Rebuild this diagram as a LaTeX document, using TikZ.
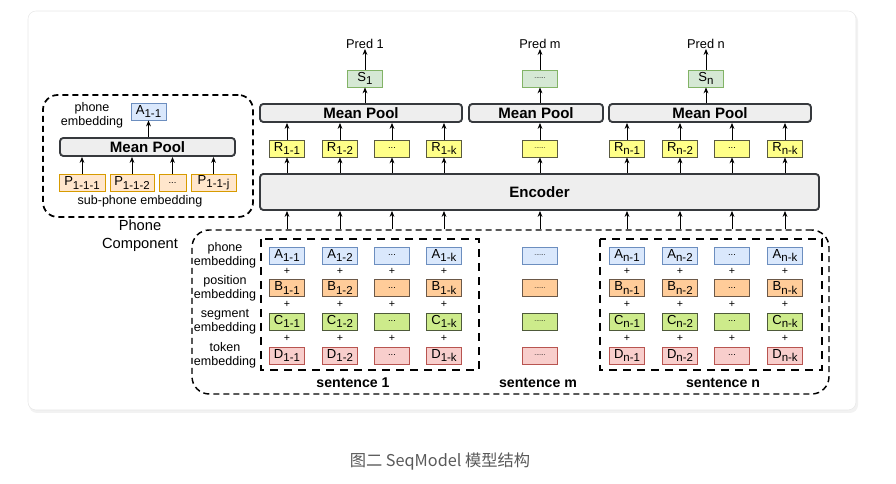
\documentclass[tikz,border=0pt]{standalone}
\usepackage{fontspec}
\setmainfont{Liberation Sans}
\newfontfamily\cjkfont{Noto Sans CJK SC}
\usepackage{xcolor}
\usetikzlibrary{arrows.meta, positioning}

\definecolor{aFill}{HTML}{DAE8FC}\definecolor{aDraw}{HTML}{6C8EBF}
\definecolor{bFill}{HTML}{FFCC99}\definecolor{bDraw}{HTML}{6B5848}
\definecolor{cFill}{HTML}{CDEB8B}\definecolor{cDraw}{HTML}{4E5A3A}
\definecolor{dFill}{HTML}{F8CECC}\definecolor{dDraw}{HTML}{B85450}
\definecolor{rFill}{HTML}{FFFF88}\definecolor{rDraw}{HTML}{5A5A40}
\definecolor{sFill}{HTML}{D5E8D4}\definecolor{sDraw}{HTML}{82B366}
\definecolor{pFill}{HTML}{FFE6CC}\definecolor{pDraw}{HTML}{D79B00}
\definecolor{poolFill}{HTML}{EEEEEE}\definecolor{poolDraw}{HTML}{36393D}

\newcommand{\lsub}[1]{\raisebox{-0.45ex}{\fontsize{8.6}{9}\selectfont #1}}
\newcommand{\threedots}{{\scriptsize...}}
\newcommand{\sixdots}{{\tiny......}}

\begin{document}
\begin{tikzpicture}[
    x=0.75pt, y=-0.75pt,
    cell/.style 2 args={rectangle, draw=#2, fill=#1, line width=0.6pt, minimum width=26.25pt, minimum height=12.75pt, inner sep=0pt, font=\fontsize{9.8}{10}\selectfont},
    ablk/.style={cell={aFill}{aDraw}},
    bblk/.style={cell={bFill}{bDraw}},
    cblk/.style={cell={cFill}{cDraw}},
    dblk/.style={cell={dFill}{dDraw}},
    rblk/.style={cell={rFill}{rDraw}},
    sblk/.style={cell={sFill}{sDraw}},
    pblk/.style={cell={pFill}{pDraw}},
    pool/.style={rectangle, rounded corners=2.5pt, draw=poolDraw, fill=poolFill, line width=1.4pt, minimum height=13.5pt, inner sep=0pt, font=\bfseries\fontsize{11.3}{12}\selectfont},
    arr/.style={-{Stealth[length=4.5pt, width=3.6pt]}, line width=0.6pt},
    plus/.style={inner sep=0pt, font=\fontsize{8}{8}\selectfont},
    lbl/.style={align=center, inner sep=0pt, font=\fontsize{9.4}{10.5}\selectfont},
    predlbl/.style={inner sep=0pt, font=\fontsize{9.6}{10}\selectfont},
    slbl/.style={inner sep=0pt, font=\bfseries\fontsize{10.6}{12}\selectfont},
    outerbox/.style={rectangle, draw, dashed, dash pattern=on 4.5pt off 3pt, line width=1.1pt, rounded corners=13pt, inner sep=0pt},
    sentbox/.style={draw, dash pattern=on 6pt off 4.5pt, line width=1.8pt}
]
\useasboundingbox (0,0) rectangle (896,484);
\fill[black!5, rounded corners=6pt] (29,13) rectangle (858,413);
\draw[fill=white, draw=black!9, rounded corners=6pt] (28,11) rectangle (856,410);

\node[outerbox, minimum width=157.5pt, minimum height=91.5pt, line width=1.3pt, rounded corners=11pt] (phonebox) at (148,156) {};
\node[ablk] (pa) at (148.5,111.5) {A\lsub{1-1}};
\node[lbl] (palbl) at (92,115) {phone\\embedding};
\node[pool, minimum width=131.25pt] (ppool) at (147.5,147) {Mean Pool};
\node[pblk, minimum width=34.5pt] (p1) at (82,183) {P\lsub{1-1-1}};
\node[pblk, minimum width=33pt] (p2) at (132,183) {P\lsub{1-1-2}};
\node[pblk, minimum width=20.25pt] (p3) at (172.5,183) {\threedots};
\node[pblk, minimum width=33.75pt] (p4) at (213.5,183) {P\lsub{1-1-j}};
\node[lbl] (plbl) at (140,201) {sub-phone embedding};
\node[lbl, font=\fontsize{11}{13.5}\selectfont] (pcomp) at (140,236) {Phone\\Component};
\foreach \i in {1,...,4}
    \draw[arr] (p\i) -- (p\i |- ppool.south);
\draw[arr] (pa |- ppool.north) -- (pa);

\node[outerbox, minimum width=477.75pt, minimum height=123pt] (outer) at (510.5,312) {};
\draw[sentbox] (261,239) rectangle (479,370);
\draw[sentbox] (600,239) rectangle (822,370);

\node[lbl] (la) at (225,255.5) {phone\\embedding};
\node[lbl] (lb) at (225,288.5) {position\\embedding};
\node[lbl] (lc) at (225,321.5) {segment\\embedding};
\node[lbl] (ld) at (225,355) {token\\embedding};

\foreach \r/\y/\L in {a/255.5/A, b/288/B, c/321.5/C, d/355.5/D}
    \foreach \c/\x/\t in {1/287/{\L\lsub{1-1}}, 2/340/{\L\lsub{1-2}}, 3/392/{\threedots}, 4/444/{\L\lsub{1-k}}, 5/540/{\sixdots}, 6/627/{\L\lsub{n-1}}, 7/680/{\L\lsub{n-2}}, 8/732/{\threedots}, 9/785/{\L\lsub{n-k}}}
        \node[\r blk] (\r\c) at (\x,\y) {\t};

\foreach \c in {1,2,3,4,6,7,8,9} {
    \path (a\c) -- (b\c) node[plus, midway] (pab\c) {+};
    \path (b\c) -- (c\c) node[plus, midway] (pbc\c) {+};
    \path (c\c) -- (d\c) node[plus, midway] (pcd\c) {+};
}

\node[pool, minimum width=419.25pt, minimum height=27pt] (enc) at (539.5,192) {Encoder};

\foreach \c/\x/\t in {1/287/{R\lsub{1-1}}, 2/340/{R\lsub{1-2}}, 3/392/{\threedots}, 4/444/{R\lsub{1-k}}, 5/540/{\sixdots}, 6/627/{R\lsub{n-1}}, 7/680/{R\lsub{n-2}}, 8/732/{\threedots}, 9/785/{R\lsub{n-k}}}
    \node[rblk] (r\c) at (\x,148.5) {\t};

\node[pool, minimum width=151.5pt] (mp1) at (361,113) {Mean Pool};
\node[pool, minimum width=100.5pt] (mpm) at (536,113) {Mean Pool};
\node[pool, minimum width=151.5pt] (mpn) at (710,113) {Mean Pool};

\node[sblk] (s1) at (365,78.5) {S\lsub{1}};
\node[sblk] (sm) at (540,78.5) {\sixdots};
\node[sblk] (sn) at (706,78.5) {S\lsub{n}};
\node[predlbl] (pred1) at (365,44) {Pred 1};
\node[predlbl] (predm) at (540,44) {Pred m};
\node[predlbl] (predn) at (706,44) {Pred n};

\foreach \c/\m in {1/1, 2/1, 3/1, 4/1, 5/m, 6/n, 7/n, 8/n, 9/n} {
    \draw[arr] (a\c |- outer.north) -- (a\c |- enc.south);
    \draw[arr] (r\c |- enc.north) -- (r\c);
    \draw[arr] (r\c) -- (r\c |- mp\m.south);
}
\foreach \m in {1,m,n} {
    \draw[arr] (s\m |- mp\m.north) -- (s\m);
    \draw[arr] (s\m) -- (pred\m);
}

\node[slbl] (sent1) at (353,383) {sentence 1};
\node[slbl] (sentm) at (538,383) {sentence m};
\node[slbl] (sentn) at (723,383) {sentence n};

\node[text=black!65, inner sep=0pt, font=\cjkfont\fontsize{12.2}{14}\selectfont] (cap) at (440,462) {图二 SeqModel 模型结构};
\end{tikzpicture}
\end{document}
